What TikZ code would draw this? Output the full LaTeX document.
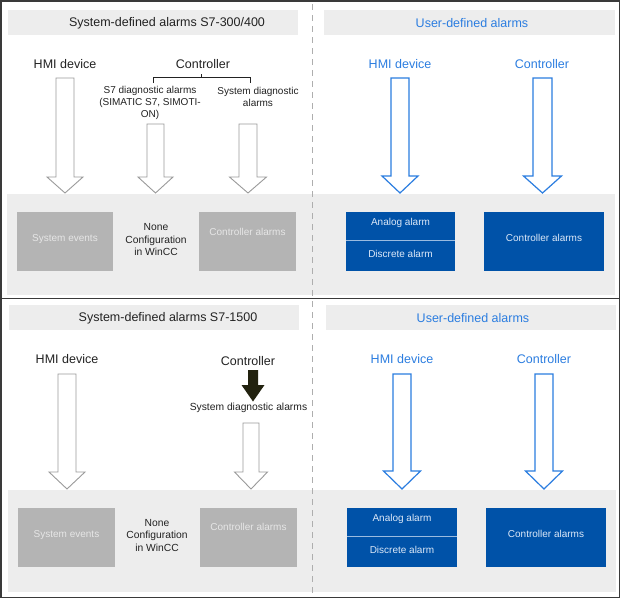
\documentclass[tikz,border=0pt]{standalone}
\usepackage{fontspec}
\setmainfont{Liberation Sans}
\definecolor{bandgray}{HTML}{EDEDED}
\definecolor{boxgray}{HTML}{B4B4B4}
\definecolor{boxtext}{HTML}{E6E6E6}
\definecolor{sblue}{HTML}{0052A8}
\definecolor{lblue}{HTML}{2B7DE0}
\definecolor{btext}{HTML}{DCE8F8}
\definecolor{framec}{HTML}{3A3A3A}
\definecolor{arrowgray}{HTML}{9A9A9A}
\definecolor{darkarrow}{HTML}{22220F}
\definecolor{txt}{HTML}{222222}
\tikzset{
  x=1pt,y=-1pt,
  band/.style={fill=bandgray,draw=none},
  hdrtext/.style={font=\fontsize{12.5}{14}\selectfont,text=txt,inner sep=0pt},
  lbl/.style={font=\fontsize{12.5}{14}\selectfont,text=txt,inner sep=0pt},
  bluelbl/.style={font=\fontsize{12.5}{14}\selectfont,text=lblue,inner sep=0pt},
  small/.style={font=\fontsize{10}{12}\selectfont,text=txt,inner sep=0pt,align=center},
  graybox/.style={fill=boxgray,draw=none},
  bluebox/.style={fill=sblue,draw=none},
  gboxtext/.style={font=\fontsize{10}{12}\selectfont,text=boxtext,inner sep=0pt},
  bboxtext/.style={font=\fontsize{10}{12}\selectfont,text=btext,inner sep=0pt},
  harrowgray/.style={draw=arrowgray,fill=white,line width=0.9pt,line join=miter},
  harrowblue/.style={draw=lblue,fill=white,line width=1.2pt,line join=miter},
}
% hollow arrow: style, cx, ytop, yhead, ytip, half shaft, half head
\newcommand\hollowarrow[7]{%
  \draw[#1] (#2-#6,#3) -- (#2+#6,#3) -- (#2+#6,#4) -- (#2+#7,#4) -- (#2,#5)
    -- (#2-#7,#4) -- (#2-#6,#4) -- cycle;}
\begin{document}
\begin{tikzpicture}
\useasboundingbox (0,0) rectangle (622,600);
\fill[white] (0,0) rectangle (622,600);

% ---------- TOP HALF ----------
\fill[band] (8,10) rectangle (298,35);
\fill[band] (324,10) rectangle (615,35);
\fill[band] (7,194) rectangle (615,295);
\node[hdrtext] (h1) at (167,23) {System-defined alarms S7-300/400};
\node[hdrtext,text=lblue] (h2) at (472,23) {User-defined alarms};

\node[lbl] (hmi1) at (65,64) {HMI device};
\node[lbl] (ctl1) at (203,64) {Controller};
\coordinate (brL) at (153,77);
\coordinate (brR) at (250,77);
\draw[txt,line width=0.8pt] (153,83) -- (brL) -- (brR) -- (250,83);
\draw[txt,line width=0.8pt] (201,77) -- (201,73.5);
\node[small] (s7d) at (150,103) {S7 diagnostic alarms\\(SIMATIC S7, SIMOTI-\\ON)};
\node[small] (sda1) at (258,97) {System diagnostic\\alarms};

\hollowarrow{harrowgray}{65}{78}{177}{193}{9}{18}
\hollowarrow{harrowgray}{155.5}{124}{177}{193}{8.5}{17.5}
\hollowarrow{harrowgray}{248}{124}{177}{193}{9}{18.5}

\fill[graybox] (17,212) rectangle (113,271);
\node[gboxtext] (se1) at (65,239) {System events};
\node[small,font=\fontsize{10.3}{12.5}\selectfont] (none1) at (156,240) {None\\Configuration\\in WinCC};
\fill[graybox] (199,212) rectangle (296,271);
\node[gboxtext] (ca1) at (247.5,232) {Controller alarms};

\node[bluelbl] (hmi2) at (400,64) {HMI device};
\node[bluelbl] (ctl2) at (542,64) {Controller};
\hollowarrow{harrowblue}{400}{78}{176}{193}{9}{18}
\hollowarrow{harrowblue}{542.5}{78}{176}{193}{9.5}{19}

\fill[bluebox] (346,212) rectangle (455,271);
\draw[btext!70!sblue,line width=0.9pt] (346,240) -- (455,240);
\node[bboxtext] (aa1) at (400.5,223) {Analog alarm};
\node[bboxtext] (da1) at (400.5,254) {Discrete alarm};
\fill[bluebox] (484,212) rectangle (604,271);
\node[bboxtext] (uca1) at (544,238) {Controller alarms};

% ---------- BOTTOM HALF ----------
\fill[band] (9,305) rectangle (299,330);
\fill[band] (326,305) rectangle (616,330);
\fill[band] (8,490) rectangle (616,592);
\node[hdrtext] (h3) at (168,318) {System-defined alarms S7-1500};
\node[hdrtext,text=lblue] (h4) at (473,318) {User-defined alarms};

\node[lbl] (hmi3) at (67,359) {HMI device};
\node[lbl] (ctl3) at (248,361) {Controller};
\hollowarrow{harrowgray}{67}{374}{472}{489}{9}{18}
\fill[darkarrow] (248,370) -- (258,370) -- (258,385) -- (264.5,385) -- (253,401.5)
   -- (241.5,385) -- (248,385) -- cycle;
\node[small,font=\fontsize{10.3}{12}\selectfont] (sda2) at (248.5,408) {System diagnostic alarms};
\hollowarrow{harrowgray}{251}{423}{472}{489}{8}{16.5}

\fill[graybox] (18,508) rectangle (115,567);
\node[gboxtext] (se2) at (66.5,535) {System events};
\node[small,font=\fontsize{10.3}{12.5}\selectfont] (none2) at (157,535.5) {None\\Configuration\\in WinCC};
\fill[graybox] (200,508) rectangle (297,567);
\node[gboxtext] (ca2) at (248.5,527) {Controller alarms};

\node[bluelbl] (hmi4) at (402,359) {HMI device};
\node[bluelbl] (ctl4) at (544,359) {Controller};
\hollowarrow{harrowblue}{402}{374}{471}{489}{9}{18.5}
\hollowarrow{harrowblue}{544}{374}{471}{489}{9}{18.5}

\fill[bluebox] (347,508) rectangle (457,567);
\draw[btext!70!sblue,line width=0.9pt] (347,536) -- (457,536);
\node[bboxtext] (aa2) at (402,519) {Analog alarm};
\node[bboxtext] (da2) at (402,550) {Discrete alarm};
\fill[bluebox] (486,508) rectangle (606,567);
\node[bboxtext] (uca2) at (546,534) {Controller alarms};

% ---------- frame and divider ----------
\draw[arrowgray!80,line width=1pt,dash pattern=on 6pt off 5pt] (312.5,4) -- (312.5,596);
\draw[framec,line width=1.5pt] (1,1) rectangle (619.5,597.5);
\draw[framec,line width=1.5pt] (1,298.5) -- (619.5,298.5);
\end{tikzpicture}
\end{document}
